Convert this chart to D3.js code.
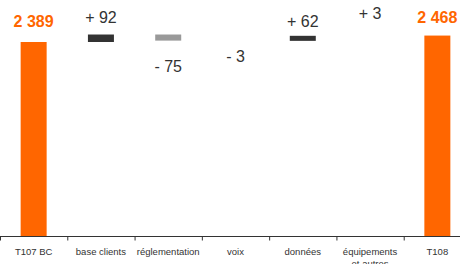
<!DOCTYPE html>
<html lang="fr">
  <head>
    <meta charset="utf-8" />
    <title>Waterfall T107 - T108</title>
    <script src="https://d3js.org/d3.v7.min.js"></script>
    <style>
      body { margin: 0; background: #fff; }
      text { font-family: "Liberation Sans", Arial, sans-serif; }
    </style>
  </head>
  <body>
    <div id="chart"></div>
    <script>
      const categories = ["T107 BC", "base clients", "réglementation", "voix", "données", "équipements et autres", "T108"];
      const values = [2389, 92, -75, -3, 62, 3, 2468];
      const kinds = ["total", "delta", "delta", "delta", "delta", "delta", "total"];
      const labels = ["2 389", "+ 92", "- 75", "- 3", "+ 62", "+ 3", "2 468"];

      // label offsets from bar edge (px), tuned to the picture
      const labelDy = [-15, -12, 31, 21, -9, -17, -13];

      const W = 460, H = 264;
      const baseY = 236.5, topRef = 42;

      const svg = d3.select("#chart").append("svg")
        .attr("width", W).attr("height", H);

      // running totals
      let run = 0;
      const rows = categories.map((c, i) => {
        let y0, y1;
        if (kinds[i] === "total") { y0 = 0; y1 = values[i]; run = values[i]; }
        else { y0 = run; y1 = run + values[i]; run = y1; }
        return { c, v: values[i], kind: kinds[i], y0, y1, label: labels[i], dy: labelDy[i] };
      });

      const x = d3.scaleBand().domain(categories).range([0, 471]);
      const y = d3.scaleLinear().domain([0, 2389]).range([baseY, topRef]);
      const barW = 26;

      const colorOf = d => d.kind === "total" ? "#ff6600" : (d.v >= 0 ? "#333333" : "#999999");

      // bars thinner than a pixel are not drawn (as in the original)
      svg.selectAll("rect.bar").data(rows.filter(d => Math.abs(y(d.y0) - y(d.y1)) >= 1)).enter().append("rect")
        .attr("class", "bar")
        .attr("x", d => x(d.c) + x.bandwidth() / 2 - barW / 2)
        .attr("width", barW)
        .attr("y", d => y(Math.max(d.y0, d.y1)))
        .attr("height", d => Math.abs(y(d.y0) - y(d.y1)))
        .attr("fill", colorOf);

      svg.selectAll("text.val").data(rows).enter().append("text")
        .attr("class", "val")
        .attr("x", d => x(d.c) + x.bandwidth() / 2)
        .attr("y", d => d.v >= 0 ? y(Math.max(d.y0, d.y1)) + d.dy : y(Math.min(d.y0, d.y1)) + d.dy)
        .attr("text-anchor", "middle")
        .attr("font-size", 16)
        .attr("font-weight", d => d.kind === "total" ? "bold" : "normal")
        .attr("fill", d => d.kind === "total" ? "#ff6600" : "#333333")
        .text(d => d.label);

      // axis
      const g = svg.append("g").attr("transform", `translate(0,${baseY})`);
      g.append("line").attr("x1", 0).attr("x2", W).attr("stroke", "#333");
      g.selectAll("line.tick").data(categories).enter().append("line")
        .attr("class", "tick")
        .attr("x1", d => x(d) + 0.5).attr("x2", d => x(d) + 0.5)
        .attr("y1", 0).attr("y2", 4)
        .attr("stroke", "#333");

      const tl = g.selectAll("text.cat").data(categories).enter().append("text")
        .attr("class", "cat")
        .attr("x", d => x(d) + x.bandwidth() / 2)
        .attr("y", 18)
        .attr("text-anchor", "middle")
        .attr("font-size", 9.5)
        .attr("fill", "#333");
      tl.each(function (d) {
        const parts = d === "équipements et autres" ? ["équipements", "et autres"] : [d];
        const t = d3.select(this);
        parts.forEach((p, k) => {
          t.append("tspan").attr("x", x(d) + x.bandwidth() / 2).attr("dy", k ? 12 : 0).text(p);
        });
      });
    </script>
  </body>
</html>
